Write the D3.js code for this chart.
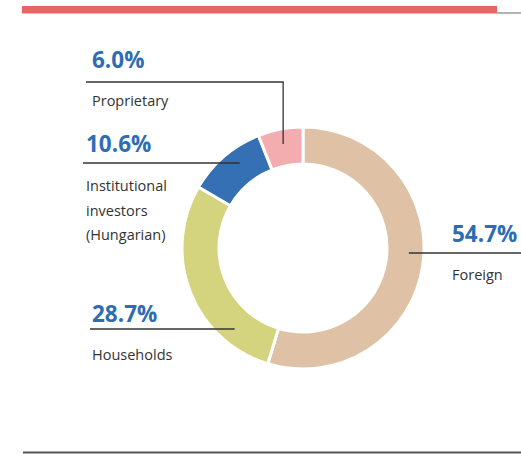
<!DOCTYPE html>
<html>
<head>
<meta charset="utf-8">
<script src="https://cdn.jsdelivr.net/npm/d3@7"></script>
<style>
  html, body { margin: 0; padding: 0; background: #fff; }
  svg { display: block; }
</style>
</head>
<body>
<svg id="chart" width="521" height="454"></svg>
<script>
// ---- data ----
const categories = ["Foreign", "Households", "Institutional investors (Hungarian)", "Proprietary"];
const values = [54.7, 28.7, 10.6, 6.0];
const valueLabels = ["54.7%", "28.7%", "10.6%", "6.0%"];
const nameLines = [["Foreign"], ["Households"], ["Institutional", "investors", "(Hungarian)"], ["Proprietary"]];
const colors = ["#dfc2a5", "#d5d47e", "#3570b5", "#f4adae"];

// ---- layout ----
const W = 521, H = 454;
const cx = 303, cy = 248, rOuter = 121, rInner = 84, rLeader = 106;
// label layouts: text x, percent baseline, leader y, leader start x, name baseline
const layout = [
  { tx: 452, py: 242, ly: 253, lx0: 521, ny: 280, kind: "h" },
  { tx: 92,  py: 322, ly: 329, lx0: 90,  ny: 360, kind: "h" },
  { tx: 86,  py: 152, ly: 163, lx0: 83,  ny: 191, kind: "h" },
  { tx: 92,  py: 68,  ly: 82,  lx0: 86,  ny: 106, kind: "v" }
];

const svg = d3.select("#chart");

// header & footer rules
svg.append("rect").attr("x", 22).attr("y", 6).attr("width", 475).attr("height", 7.5).attr("fill", "#e86566");
svg.append("line").attr("x1", 497).attr("x2", W).attr("y1", 13).attr("y2", 13)
  .attr("stroke", "#666").attr("stroke-width", 1);
svg.append("line").attr("x1", 23).attr("x2", W).attr("y1", 452.5).attr("y2", 452.5)
  .attr("stroke", "#555").attr("stroke-width", 2);

const pie = d3.pie().sort(null).value(d => d)(values);
const arc = d3.arc().innerRadius(rInner).outerRadius(rOuter);

const g = svg.append("g").attr("transform", `translate(${cx},${cy})`);
g.selectAll("path").data(pie).join("path")
  .attr("d", arc)
  .attr("fill", (d, i) => colors[i])
  .attr("stroke", "#fff")
  .attr("stroke-width", 3)
  .attr("stroke-linejoin", "miter");

// leaders and labels
pie.forEach((d, i) => {
  const L = layout[i];
  const mid = (d.startAngle + d.endAngle) / 2;
  let pts;
  if (L.kind === "h") {
    const dy = L.ly - cy;
    const dx = Math.sqrt(rLeader * rLeader - dy * dy) * (Math.sin(mid) < 0 ? -1 : 1);
    pts = [[L.lx0, L.ly], [cx + dx, L.ly]];
  } else {
    const x = cx + rLeader * Math.sin(mid);
    const y = cy - rLeader * Math.cos(mid);
    pts = [[L.lx0, L.ly], [x, L.ly], [x, y]];
  }
  svg.append("path")
    .attr("d", d3.line()(pts))
    .attr("fill", "none")
    .attr("stroke", "#333")
    .attr("stroke-width", 1.3);

  svg.append("text")
    .attr("x", L.tx).attr("y", L.py)
    .attr("font-family", "'Open Sans', sans-serif")
    .attr("font-weight", 700)
    .attr("font-size", 22.5)
    .attr("fill", "#2e6db4")
    .text(valueLabels[i]);

  const t = svg.append("text")
    .attr("font-family", "'Open Sans', sans-serif")
    .attr("font-size", 14.5)
    .attr("fill", "#333");
  nameLines[i].forEach((s, j) => {
    t.append("tspan").attr("x", L.tx).attr("y", L.ny + j * 24.5).text(s);
  });
});
</script>
</body>
</html>
